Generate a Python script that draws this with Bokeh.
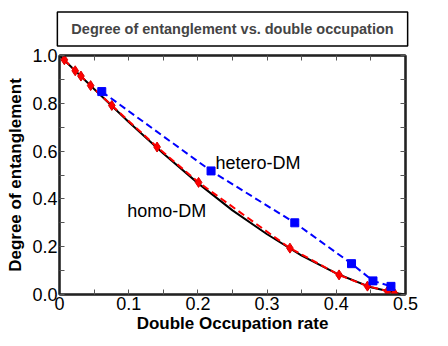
from bokeh.plotting import figure
from bokeh.models import LinearAxis, Range1d, Label, FixedTicker, Title
from bokeh.embed import file_html
from bokeh.resources import INLINE

homo_x = [0.007, 0.0227, 0.031, 0.045, 0.0756, 0.141, 0.201, 0.333, 0.404, 0.445, 0.474, 0.484]
homo_y = [0.982, 0.936, 0.914, 0.874, 0.791, 0.617, 0.469, 0.194, 0.082, 0.035, 0.014, 0.005]

hetero_x = [0.0611, 0.219, 0.340, 0.422, 0.453, 0.479]
hetero_y = [0.849, 0.517, 0.300, 0.129, 0.057, 0.034]

theory_x = [0.0, 0.05, 0.1, 0.15, 0.2, 0.25, 0.3, 0.35, 0.4, 0.45, 0.49, 0.5]
theory_y = [1.0, 0.86, 0.722, 0.59, 0.466, 0.352, 0.252, 0.163, 0.088, 0.03, 0.004, 0.0]

x_ticks = [0, 0.1, 0.2, 0.3, 0.4, 0.5]
x_minor = [0.05, 0.15, 0.25, 0.35, 0.45]
x_labels = {0: "0", 0.1: "0.1", 0.2: "0.2", 0.3: "0.3", 0.4: "0.4", 0.5: "0.5"}
y_ticks = [0.0, 0.2, 0.4, 0.6, 0.8, 1.0]
y_minor = [0.1, 0.3, 0.5, 0.7, 0.9]
y_labels = {0: "0.0", 0.2: "0.2", 0.4: "0.4", 0.6: "0.6", 0.8: "0.8", 1: "1.0"}

FONT = "Liberation Sans"

p = figure(width=440, height=338, output_backend="svg", toolbar_location=None,
           x_range=Range1d(0, 0.5), y_range=Range1d(0, 1.0),
           min_border_left=59, min_border_right=35, min_border_top=53, min_border_bottom=44)

p.title = Title(text="Degree of entanglement vs. double occupation", align="center",
                text_font=FONT, text_font_size="14.5px", text_font_style="bold",
                border_line_color="black", border_line_width=1.5,
                padding=(14, 9), standoff=19)

p.grid.visible = False
p.outline_line_color = "black"
p.outline_line_width = 2
p.background_fill_color = "white"

def style_axis(ax):
    ax.axis_line_width = 2
    ax.axis_line_color = "#222222"
    ax.major_tick_in = 5
    ax.major_tick_out = 0
    ax.minor_tick_in = 5
    ax.minor_tick_out = 0
    ax.major_tick_line_color = "#555555"
    ax.minor_tick_line_color = "#555555"
    ax.major_label_text_font = FONT
    ax.major_label_text_font_size = "18px"
    ax.major_label_text_color = "black"
    ax.major_label_standoff = 2
    ax.axis_label_text_font = FONT
    ax.axis_label_text_font_size = "17px"
    ax.axis_label_text_font_style = "bold"
    ax.axis_label_text_color = "black"

p.xaxis.ticker = FixedTicker(ticks=x_ticks, minor_ticks=x_minor)
p.xaxis.major_label_overrides = x_labels
p.xaxis.axis_label = "Double Occupation rate"
p.xaxis.axis_label_standoff = 1
p.yaxis.ticker = FixedTicker(ticks=y_ticks, minor_ticks=y_minor)
p.yaxis.major_label_overrides = y_labels
p.yaxis.axis_label = "Degree of entanglement"
p.yaxis.axis_label_standoff = 4
style_axis(p.xaxis[0])
style_axis(p.yaxis[0])

top = LinearAxis(ticker=FixedTicker(ticks=x_ticks, minor_ticks=x_minor))
style_axis(top)
top.major_label_overrides = {t: "" for t in x_ticks}
top.major_label_standoff = 4
p.add_layout(top, "above")
right = LinearAxis(ticker=FixedTicker(ticks=y_ticks, minor_ticks=y_minor))
style_axis(right)
right.major_label_overrides = {t: "" for t in y_ticks}
right.major_label_standoff = 0
p.add_layout(right, "right")

p.line(theory_x, theory_y, line_color="black", line_width=2)
p.line(homo_x, homo_y, line_color="#ff0000", line_width=2, line_dash="7 4")
p.scatter(homo_x, homo_y, marker="diamond", size=10, fill_color="#ff0000", line_color="#dd0000")
p.line(hetero_x, hetero_y, line_color="#0000ff", line_width=2, line_dash="7 4")
p.scatter(hetero_x, hetero_y, marker="square", size=8, fill_color="#0000ff", line_color="#0000ff")

p.add_layout(Label(x=0.2254, y=0.549, text="hetero-DM", text_font=FONT, text_font_size="18px",
                   text_baseline="alphabetic", text_color="black"))
p.add_layout(Label(x=0.0978, y=0.351, text="homo-DM", text_font=FONT, text_font_size="18px",
                   text_baseline="alphabetic", text_color="black"))

open("out.html", "w").write(file_html(p, INLINE))
